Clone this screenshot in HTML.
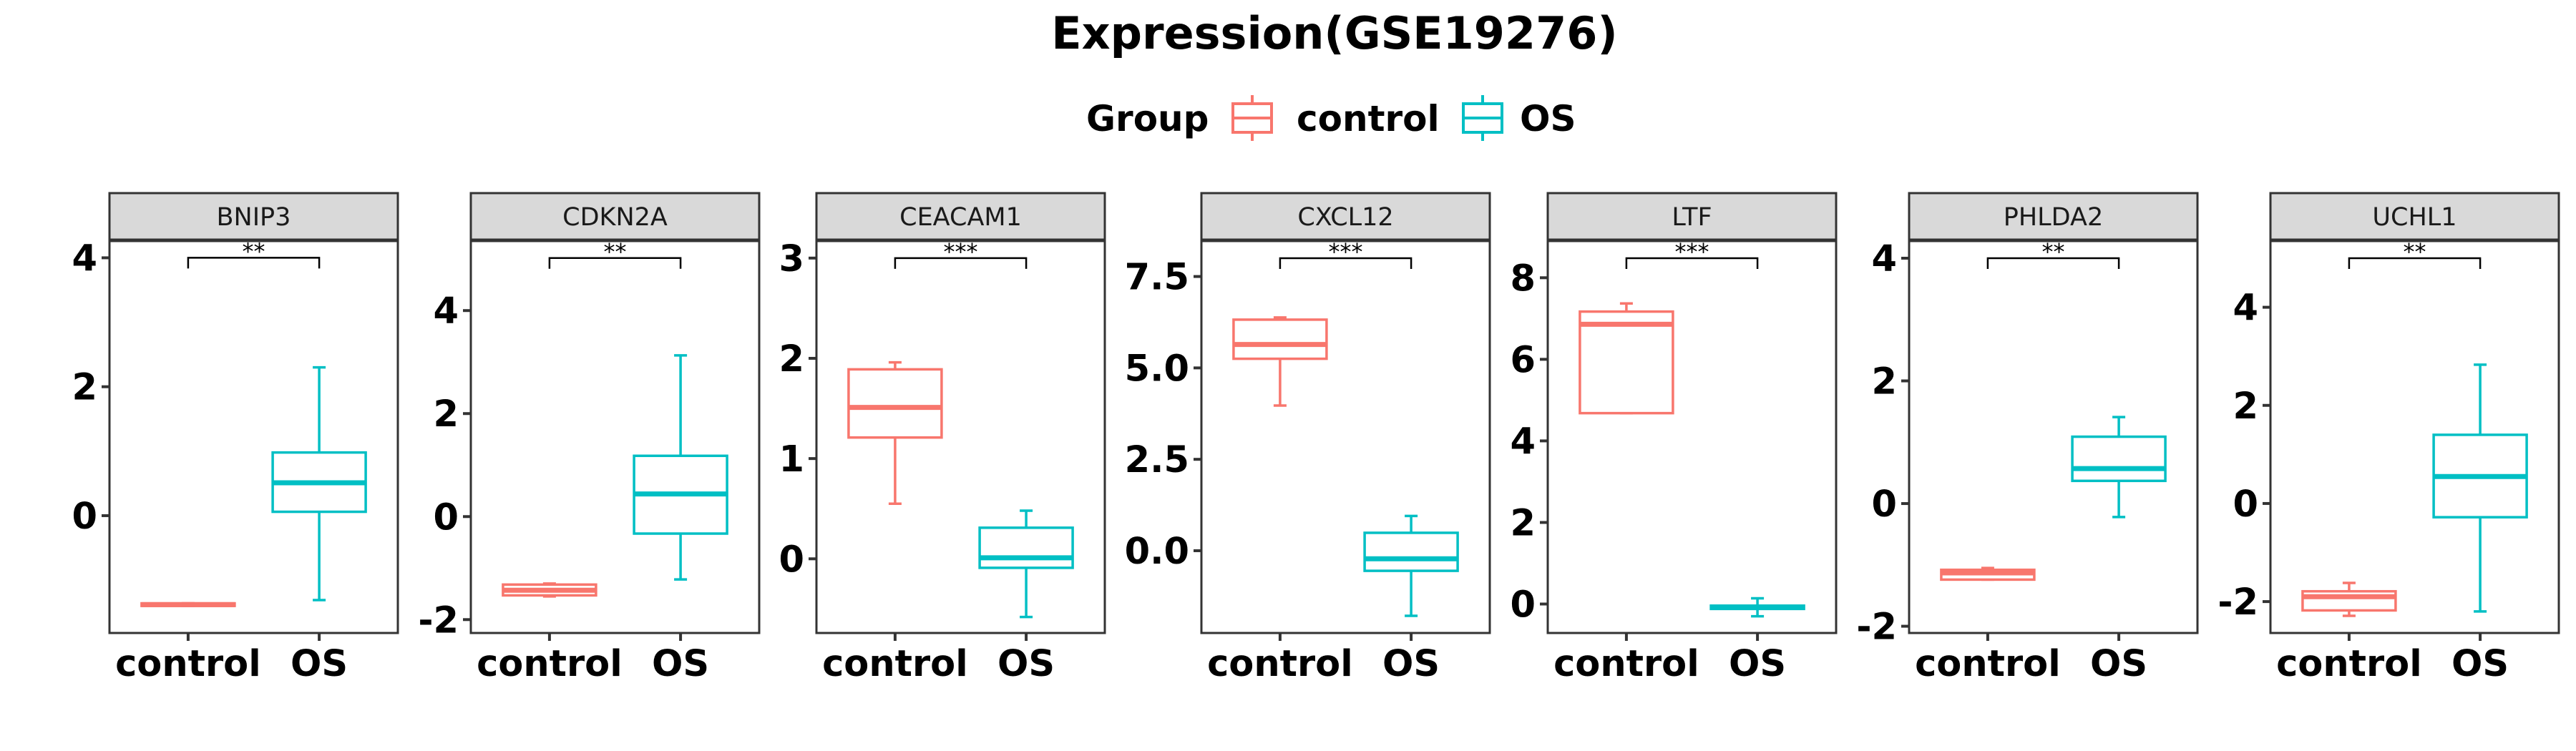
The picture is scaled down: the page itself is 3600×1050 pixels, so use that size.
<!DOCTYPE html>
<html><head><meta charset="utf-8">
<style>
html,body{margin:0;padding:0;background:#fff;}
svg{display:block;font-family:"DejaVu Sans","Liberation Sans",sans-serif;}
</style></head>
<body>
<svg id="chart" width="3600" height="1050" viewBox="0 0 3600 1050" xmlns="http://www.w3.org/2000/svg">
  <text x="1865" y="68" text-anchor="middle" font-size="62" font-weight="bold" fill="#000">Expression(GSE19276)</text>
  <g>
    <text x="1518" y="183" font-size="50" font-weight="bold">Group</text>
    <g stroke="#F8766D" stroke-width="4" fill="#fff">
      <line x1="1750" y1="133" x2="1750" y2="197"/>
      <rect x="1723" y="145" width="54" height="40"/>
      <line x1="1723" y1="165" x2="1777" y2="165"/>
    </g>
    <text x="1812" y="183" font-size="50" font-weight="bold">control</text>
    <g stroke="#00BFC4" stroke-width="4" fill="#fff">
      <line x1="2072" y1="133" x2="2072" y2="197"/>
      <rect x="2045" y="145" width="54" height="40"/>
      <line x1="2045" y1="165" x2="2099" y2="165"/>
    </g>
    <text x="2124" y="183" font-size="50" font-weight="bold">OS</text>
  </g>
  <g id="panels"></g>
</svg>
<script>
const genes = ["BNIP3","CDKN2A","CEACAM1","CXCL12","LTF","PHLDA2","UCHL1"];
const signif = ["**","**","***","***","***","**","**"];
const bracketY = [4.0, 5.02, 3.0, 8.0, 8.48, 4.0, 5.0];
const yLo = [-1.82, -2.26, -0.74, -2.25, -0.71, -2.11, -2.64];
const yHi = [4.26, 5.35, 3.17, 8.47, 8.9, 4.28, 5.35];
const tickVals = [[0,2,4],[-2,0,2,4],[0,1,2,3],[0,2.5,5,7.5],[0,2,4,6,8],[-2,0,2,4],[-2,0,2,4]];
const tickLabels = [["0","2","4"],["-2","0","2","4"],["0","1","2","3"],["0.0","2.5","5.0","7.5"],["0","2","4","6","8"],["-2","0","2","4"],["-2","0","2","4"]];
const ctrlMin = [-1.40, -1.55, 0.55, 3.97, 4.68, -1.24, -2.29];
const ctrlQ1  = [-1.40, -1.53, 1.21, 5.25, 4.68, -1.24, -2.18];
const ctrlMed = [-1.38, -1.43, 1.51, 5.64, 6.86, -1.13, -1.90];
const ctrlQ3  = [-1.36, -1.32, 1.89, 6.32, 7.17, -1.08, -1.79];
const ctrlMax = [-1.36, -1.30, 1.96, 6.38, 7.37, -1.05, -1.62];
const osMin = [-1.31, -1.22, -0.58, -1.78, -0.30, -0.22, -2.20];
const osQ1  = [0.06, -0.33, -0.09, -0.55, -0.12, 0.37, -0.28];
const osMed = [0.51, 0.44, 0.01, -0.22, -0.08, 0.57, 0.55];
const osQ3  = [0.98, 1.18, 0.31, 0.49, -0.04, 1.09, 1.40];
const osMax = [2.30, 3.13, 0.48, 0.95, 0.14, 1.41, 2.83];
const groups = ["control","OS"];

const layoutLeft = [153, 658, 1141, 1679, 2163, 2668, 3173];
const PW = 403, PT = 337, PB = 885, ST = 270;
const NS = "http://www.w3.org/2000/svg";
const root = document.getElementById("panels");
function mk(tag, attrs, parent){const e=document.createElementNS(NS,tag);for(const k in attrs)e.setAttribute(k,attrs[k]);parent.appendChild(e);return e;}

genes.forEach((g,i)=>{
  const L = layoutLeft[i];
  const y = v => PB - (v - yLo[i])/(yHi[i]-yLo[i])*(PB-PT);
  const xPos = k => L + PW*(0.6+k)/2.2;
  const grp = mk("g",{},root);
  
  
  const strip = mk("rect",{x:L,y:ST,width:PW,height:65,fill:"#d9d9d9",stroke:"#333","stroke-width":3},grp);
  
  
  const st = mk("text",{x:L+PW/2,y:315,"text-anchor":"middle","font-size":35,fill:"#1a1a1a"},grp);
  st.textContent = g;
  
  
  const pr = mk("rect",{x:L,y:PT,width:PW,height:PB-PT,fill:"#fff",stroke:"#333","stroke-width":3},grp);
  
  
  tickVals[i].forEach((tv,j)=>{
    const ty = y(tv);
    const tl = mk("line",{x1:L-11,x2:L,y1:ty,y2:ty,stroke:"#333","stroke-width":4},grp);
    
    
    const t = mk("text",{x:L-17,y:ty+18,"text-anchor":"end","font-size":51,"font-weight":"bold",fill:"#000"},grp);
    t.textContent = tickLabels[i][j];
    
    
  });
  groups.forEach((gr,k)=>{
    const xx = xPos(k);
    const tl = mk("line",{x1:xx,x2:xx,y1:PB,y2:PB+11,stroke:"#333","stroke-width":4},grp);
    
    
    const t = mk("text",{x:xx,y:945,"text-anchor":"middle","font-size":51,"font-weight":"bold",fill:"#000"},grp);
    t.textContent = gr;
    
    
  });
  const stats = [[ctrlMin[i],ctrlQ1[i],ctrlMed[i],ctrlQ3[i],ctrlMax[i]],[osMin[i],osQ1[i],osMed[i],osQ3[i],osMax[i]]];
  const cols = ["#F8766D","#00BFC4"];
  stats.forEach((s,k)=>{
    const cx = xPos(k), bw = 130, cw = 18;
    const bg = mk("g",{stroke:cols[k],fill:"none","stroke-width":3.5},grp);
    
    
    mk("line",{x1:cx,x2:cx,y1:y(s[4]),y2:y(s[3])},bg);
    mk("line",{x1:cx,x2:cx,y1:y(s[1]),y2:y(s[0])},bg);
    mk("line",{x1:cx-cw/2,x2:cx+cw/2,y1:y(s[4]),y2:y(s[4])},bg);
    mk("line",{x1:cx-cw/2,x2:cx+cw/2,y1:y(s[0]),y2:y(s[0])},bg);
    mk("rect",{x:cx-bw/2,y:y(s[3]),width:bw,height:Math.max(0.5,y(s[1])-y(s[3])),fill:"#fff"},bg);
    mk("line",{x1:cx-bw/2,x2:cx+bw/2,y1:y(s[2]),y2:y(s[2]),"stroke-width":7},bg);
  });
  const by = y(bracketY[i]);
  const br = mk("path",{d:`M${xPos(0)},${by+15} V${by} H${xPos(1)} V${by+15}`,stroke:"#000","stroke-width":2.5,fill:"none"},grp);
  
  
  const sg = mk("text",{x:(xPos(0)+xPos(1))/2,y:by+2,"text-anchor":"middle","font-size":32,fill:"#000"},grp);
  sg.textContent = signif[i];
  
  
});
</script>
</body></html>
